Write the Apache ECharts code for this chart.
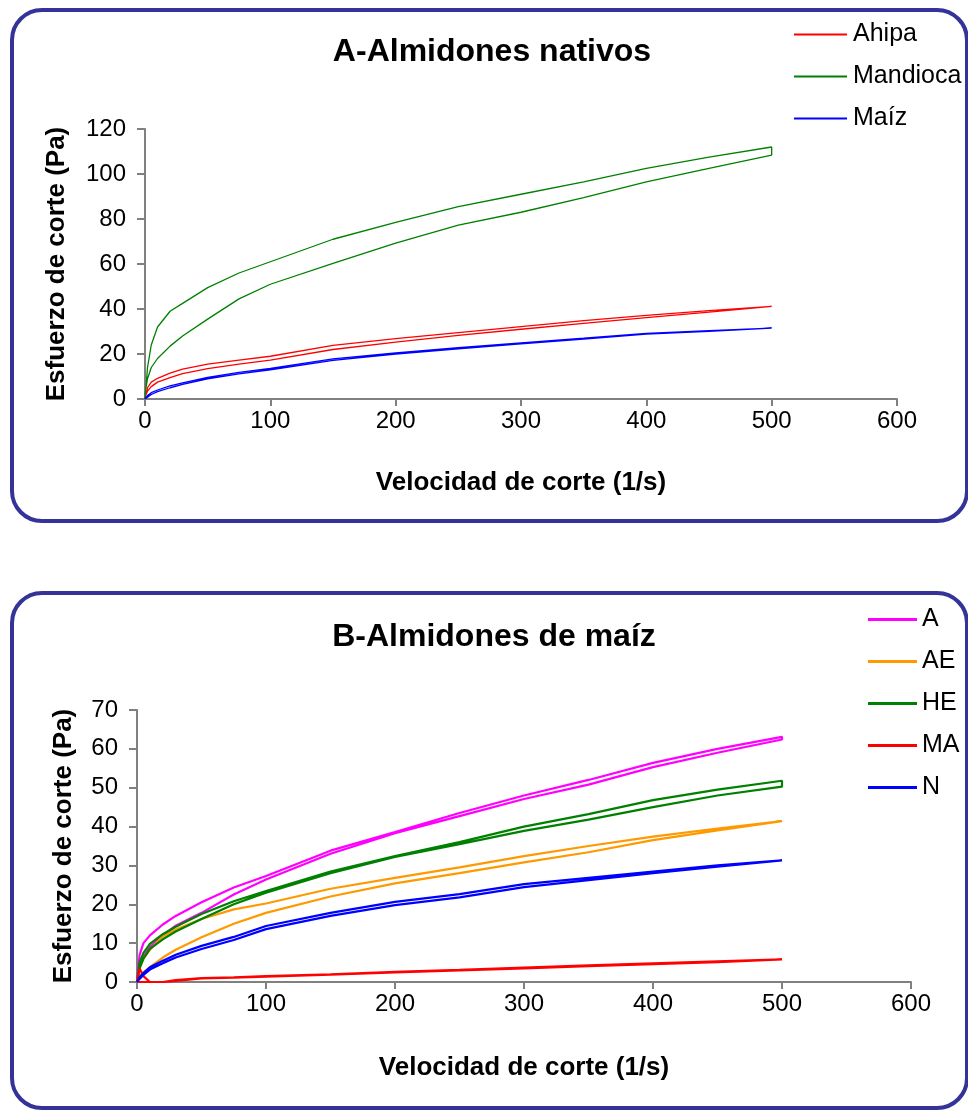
<!DOCTYPE html>
<html>
<head>
<meta charset="utf-8">
<script src="https://cdn.jsdelivr.net/npm/echarts@6/dist/echarts.min.js"></script>
<style>
html,body{margin:0;padding:0;background:#fff;}
#main{width:968px;height:1111px;}
</style>
</head>
<body>
<div id="main"></div>
<script>
// Shear rate sample points (1/s), shared by all loops
const shearRate = [0, 2, 5, 10, 20, 30, 50, 75, 100, 150, 200, 250, 300, 350, 400, 450, 500];

// Chart A – native starches (Pa): up-curve and down-curve
const ahipaUp      = [0, 5, 7.5, 9.2, 11.5, 13.3, 15.5, 17.3, 19, 23.8, 26.8, 29.5, 32.2, 34.8, 37.2, 39.3, 41.2];
const ahipaDown    = [1, 3.5, 5.5, 7.5, 9.5, 11.3, 13.5, 15.5, 17.3, 22, 25.3, 28.3, 31, 33.6, 36.2, 38.6, 40.7];
const mandiocaUp   = [0, 14, 24, 32, 39, 42.5, 49.5, 56, 61, 71, 78.5, 85.5, 91, 96.5, 102.5, 107.5, 112];
const mandiocaDown = [2, 9, 14, 18, 23.5, 28, 35.5, 44.5, 51, 60.3, 69.3, 77.3, 83, 89.5, 96.5, 102.5, 108.4];
const maizUp       = [0, 1.5, 2.8, 4, 5.8, 7.2, 9.6, 11.8, 13.6, 17.8, 20.5, 22.8, 24.9, 27, 29.2, 30.4, 31.5];
const maizDown     = [0, 0.8, 2, 3.3, 5, 6.5, 9, 11.2, 13, 17.2, 20, 22.3, 24.5, 26.6, 28.8, 30.1, 31.3];

// Chart B – corn starches (Pa)
const aUp    = [0, 7, 10, 12, 14.8, 17, 20.5, 24.3, 27.3, 33.8, 38.6, 43.5, 48, 52, 56.4, 60, 63.1];
const aDown  = [0, 4, 6.5, 9, 12, 14.5, 17.8, 22.5, 26.4, 33, 38.3, 42.7, 47.1, 50.8, 55.3, 59, 62.4];
const aeUp   = [0, 3.5, 6, 8.3, 11.8, 13.5, 16.2, 18.7, 20.2, 24, 26.8, 29.5, 32.4, 35, 37.4, 39.5, 41.4];
const aeDown = [0, 1.5, 2.5, 3.8, 6.3, 8.3, 11.5, 15, 17.8, 22, 25.4, 28, 30.8, 33.4, 36.5, 39, 41.2];
const heUp   = [0, 5, 7.5, 9.8, 12.3, 14.2, 17.5, 20.8, 23.4, 28.4, 32.4, 36, 40, 43.2, 46.8, 49.5, 51.8];
const heDown = [0, 3.5, 6, 8.5, 11, 13, 16.2, 20, 23, 28, 32.2, 35.5, 38.9, 41.8, 45, 48, 50.3];
const maUp   = [0, 3.5, 1.5, 0, 0, 0.5, 1, 1.2, 1.5, 2, 2.6, 3.1, 3.7, 4.3, 4.8, 5.3, 5.8];
const maDown = [0, 0, 0, 0, 0, 0.3, 0.9, 1.1, 1.4, 1.9, 2.5, 3, 3.5, 4.1, 4.6, 5.1, 5.7];
const nUp    = [0, 1.2, 2.3, 3.8, 5.5, 7, 9.3, 11.6, 14.4, 17.8, 20.6, 22.6, 25.2, 26.8, 28.4, 30, 31.3];
const nDown  = [0, 0.8, 1.8, 3.2, 4.8, 6.3, 8.5, 10.8, 13.6, 17, 19.8, 21.8, 24.4, 26.2, 28, 29.7, 31.1];

const xTicksMax = 600;
const namesA = ['Ahipa', 'Mandioca', 'Maíz'];
const namesB = ['A', 'AE', 'HE', 'MA', 'N'];

function loop(up, down) {
  const pts = shearRate.map((x, i) => [x, up[i]]);
  for (let i = shearRate.length - 1; i >= 0; i--) pts.push([shearRate[i], down[i]]);
  return pts;
}

const FONT = "'Liberation Sans', Arial, Helvetica, sans-serif";
const chart = echarts.init(document.getElementById('main'), null, {renderer: 'canvas'});

function xAx(gridIndex) {
  return {
    type: 'value', gridIndex, min: 0, max: xTicksMax, interval: 100,
    name: 'Velocidad de corte (1/s)', nameLocation: 'middle', nameGap: gridIndex === 0 ? 71 : 73,
    nameTextStyle: {fontFamily: FONT, fontWeight: 'bold', fontSize: 26, color: '#000'},
    axisLine: {show: true, onZero: false, lineStyle: {color: '#808080', width: 2}},
    axisTick: {show: true, inside: false, length: 7, lineStyle: {color: '#808080', width: 2}},
    axisLabel: {fontFamily: FONT, fontSize: 24, color: '#000', margin: 10},
    splitLine: {show: false}
  };
}
function yAx(gridIndex, max, interval, gap) {
  return {
    type: 'value', gridIndex, min: 0, max, interval,
    name: 'Esfuerzo de corte (Pa)', nameLocation: 'middle', nameGap: gap,
    nameTextStyle: {fontFamily: FONT, fontWeight: 'bold', fontSize: 26, color: '#000'},
    axisLine: {show: true, lineStyle: {color: '#808080', width: 2}},
    axisTick: {show: true, inside: false, length: 8, lineStyle: {color: '#808080', width: 2}},
    axisLabel: {fontFamily: FONT, fontSize: 24, color: '#000', margin: 19},
    splitLine: {show: false}
  };
}

const colorsA = ['#ff0000', '#008000', '#0000ff'];
const colorsB = ['#ff00ff', '#ff9900', '#008000', '#ff0000', '#0000ff'];
const loopsA = [loop(ahipaUp, ahipaDown), loop(mandiocaUp, mandiocaDown), loop(maizUp, maizDown)];
const loopsB = [loop(aUp, aDown), loop(aeUp, aeDown), loop(heUp, heDown), loop(maUp, maDown), loop(nUp, nDown)];

const series = [];
namesA.forEach((n, i) => series.push({
  name: n, type: 'line', xAxisIndex: 0, yAxisIndex: 0, data: loopsA[i],
  showSymbol: false, symbol: 'none', smooth: false, color: colorsA[i],
  lineStyle: {width: 1.3, color: colorsA[i]}, animation: false
}));
namesB.forEach((n, i) => series.push({
  name: n, type: 'line', xAxisIndex: 1, yAxisIndex: 1, data: loopsB[i],
  showSymbol: false, symbol: 'none', smooth: false, color: colorsB[i],
  lineStyle: {width: 2.2, color: colorsB[i]}, animation: false
}));

const boxStyle = {stroke: '#333399', fill: 'none', lineWidth: 4};

chart.setOption({
  animation: false,
  backgroundColor: '#fff',
  title: [
    {text: 'A-Almidones nativos', left: 492, top: 36, textAlign: 'center', padding: 0,
     textStyle: {fontFamily: FONT, fontWeight: 'bold', fontSize: 32, color: '#000'}},
    {text: 'B-Almidones de maíz', left: 494, top: 621, textAlign: 'center', padding: 0,
     textStyle: {fontFamily: FONT, fontWeight: 'bold', fontSize: 32, color: '#000'}}
  ],
  legend: [
    {data: namesA, orient: 'vertical', left: 794, top: 22, itemWidth: 53, itemHeight: 2,
     icon: 'rect', itemGap: 17, padding: 0,
     textStyle: {fontFamily: FONT, fontSize: 25, color: '#000', padding: [0, 0, 0, 1]}},
    {data: namesB, orient: 'vertical', left: 868, top: 607, itemWidth: 49, itemHeight: 3,
     icon: 'rect', itemGap: 17, padding: 0,
     textStyle: {fontFamily: FONT, fontSize: 25, color: '#000', padding: [0, 0, 0, 0]}}
  ],
  grid: [
    {left: 145, top: 129, width: 752, height: 270},
    {left: 137, top: 710, width: 774, height: 272}
  ],
  xAxis: [xAx(0), xAx(1)],
  yAxis: [yAx(0, 120, 20, 75), yAx(1, 70, 10, 60)],
  series,
  graphic: [
    {type: 'rect', shape: {x: 12, y: 10, width: 955, height: 511, r: 30}, style: boxStyle, silent: true, z: -1},
    {type: 'rect', shape: {x: 12, y: 593, width: 955, height: 515, r: 30}, style: boxStyle, silent: true, z: -1}
  ]
});
</script>
</body>
</html>
